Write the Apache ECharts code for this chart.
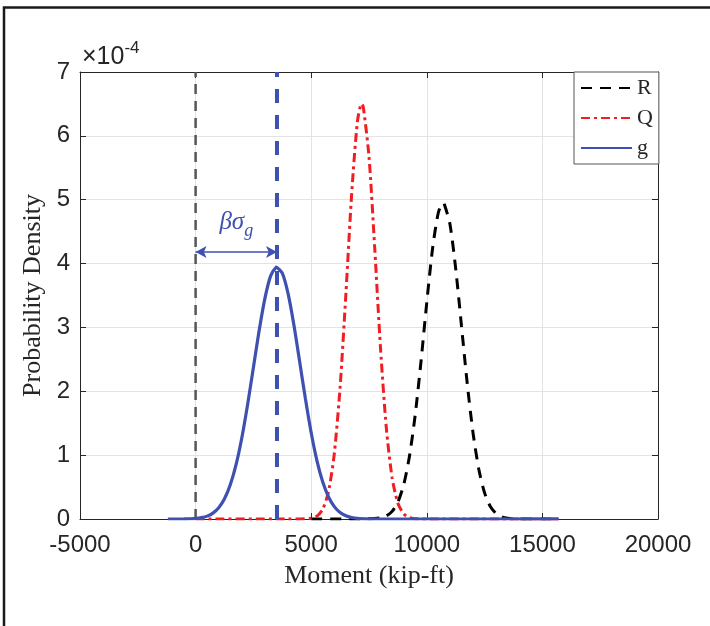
<!DOCTYPE html>
<html>
<head>
<meta charset="utf-8">
<script src="https://cdn.jsdelivr.net/npm/echarts@6/dist/echarts.min.js"></script>
<style>
html,body{margin:0;padding:0;background:#fff;}
#chart{width:710px;height:626px;}
</style>
</head>
<body>
<div id="chart"></div>
<script>
// Values (density in units of 1e-4)
const xTicks = [-5000, 0, 5000, 10000, 15000, 20000];
const yTicks = [0, 1, 2, 3, 4, 5, 6, 7];

const rX = [5000, 7000, 8000, 8250, 8500, 8750, 9000, 9250, 9500, 9750, 10000, 10250, 10500, 10700, 10750, 11000, 11250, 11500, 11750, 12000, 12250, 12500, 12750, 13000, 13250, 13500, 14000, 15700];
const rY = [0, 0, 0.018, 0.049, 0.119, 0.265, 0.535, 0.982, 1.634, 2.470, 3.395, 4.237, 4.80, 4.95, 4.94, 4.62, 3.92, 3.024, 2.118, 1.348, 0.779, 0.409, 0.195, 0.084, 0.033, 0.012, 0, 0];

const qX = [0, 4000, 5000, 5250, 5500, 5750, 6000, 6250, 6500, 6750, 7000, 7180, 7250, 7500, 7750, 8000, 8250, 8500, 8750, 9000, 9250, 9500, 10000, 15700];
const qY = [0, 0, 0.012, 0.046, 0.154, 0.432, 1.025, 2.064, 3.521, 5.088, 6.226, 6.50, 6.458, 5.675, 4.225, 2.664, 1.423, 0.645, 0.247, 0.080, 0.022, 0.005, 0, 0];

const gX = [-1200, -500, -250, 0, 250, 500, 750, 1000, 1250, 1500, 1750, 2000, 2250, 2500, 2750, 3000, 3250, 3500, 3520, 3750, 4000, 4250, 4500, 4750, 5000, 5250, 5500, 5750, 6000, 6250, 6500, 6750, 7000, 7500, 8000, 15700];
const gY = [0, 0.001, 0.004, 0.009, 0.021, 0.045, 0.092, 0.176, 0.316, 0.535, 0.851, 1.273, 1.793, 2.372, 2.954, 3.459, 3.811, 3.949, 3.95, 3.849, 3.528, 3.042, 2.467, 1.882, 1.350, 0.911, 0.578, 0.345, 0.194, 0.102, 0.051, 0.024, 0.010, 0.002, 0, 0];

const zeroLineX = [0, 0];
const zeroLineY = [0, 7];
const gMeanX = [3520, 3520];
const gMeanY = [0, 7];
const arrowY = 4.18;

const pair = (xs, ys) => xs.map((x, i) => [x, ys[i]]);

const BLUE = '#3e50b0';
const RED = '#f01e23';
const TXT = '#262626';

const chart = echarts.init(document.getElementById('chart'), null, {renderer: 'canvas'});
chart.setOption({
  animation: false,
  backgroundColor: '#fff',
  grid: {left: 80, top: 72, width: 578, height: 447, show: false},
  graphic: [
    {type: 'rect', shape: {x: 4, y: 7.5, width: 740, height: 660}, style: {fill: 'none', stroke: '#1a1a1a', lineWidth: 2.5}, z: 100},
    {type: 'text', left: 82, top: 40, style: {
      text: '{a|\u00d710}{b|-4}',
      rich: {
        a: {fontFamily: 'Liberation Sans', fontSize: 25, fill: TXT, verticalAlign: 'bottom', lineHeight: 30},
        b: {fontFamily: 'Liberation Sans', fontSize: 17, fill: TXT, verticalAlign: 'top', lineHeight: 30}
      }
    }}
  ],
  legend: {
    data: ['R', 'Q', 'g'],
    orient: 'vertical',
    left: 574, top: 72,
    padding: [5, 6, 5, 6],
    itemWidth: 51, itemHeight: 14, itemGap: 8,
    backgroundColor: '#fff',
    borderColor: '#555', borderWidth: 1,
    itemStyle: {opacity: 0},
    textStyle: {fontFamily: 'Liberation Serif', fontSize: 22, color: TXT}
  },
  xAxis: [{
    type: 'value', min: -5000, max: 20000, interval: 5000,
    name: 'Moment (kip-ft)', nameLocation: 'middle', nameGap: 44,
    nameTextStyle: {fontFamily: 'Liberation Serif', fontSize: 26, color: TXT},
    axisLine: {show: true, onZero: false, lineStyle: {color: TXT, width: 1}},
    axisTick: {show: true, inside: true, length: 6, lineStyle: {color: TXT}},
    axisLabel: {fontFamily: 'Liberation Sans', fontSize: 24, color: TXT, margin: 14,
      formatter: v => xTicks.includes(v) ? String(v) : ''},
    splitLine: {show: true, lineStyle: {color: '#e3e3e3', width: 1}}
  }, {
    type: 'value', position: 'top', min: -5000, max: 20000, interval: 5000,
    axisLine: {show: true, onZero: false, lineStyle: {color: TXT, width: 1}},
    axisTick: {show: true, inside: true, length: 6, lineStyle: {color: TXT}},
    axisLabel: {show: false}, splitLine: {show: false}
  }],
  yAxis: [{
    type: 'value', min: 0, max: 7, interval: 1,
    name: 'Probability Density', nameLocation: 'middle', nameGap: 30,
    nameTextStyle: {fontFamily: 'Liberation Serif', fontSize: 26, color: TXT},
    axisLine: {show: true, onZero: false, lineStyle: {color: TXT, width: 1}},
    axisTick: {show: true, inside: true, length: 6, lineStyle: {color: TXT}},
    axisLabel: {fontFamily: 'Liberation Sans', fontSize: 24, color: TXT, margin: 10,
      formatter: v => yTicks.includes(v) ? String(v) : ''},
    splitLine: {show: true, lineStyle: {color: '#e3e3e3', width: 1}}
  }, {
    type: 'value', position: 'right', min: 0, max: 7, interval: 1,
    axisLine: {show: true, onZero: false, lineStyle: {color: TXT, width: 1}},
    axisTick: {show: true, inside: true, length: 6, lineStyle: {color: TXT}},
    axisLabel: {show: false}, splitLine: {show: false}
  }],
  series: [
    {name: 'zero', type: 'line', data: pair(zeroLineX, zeroLineY), symbol: 'none',
      lineStyle: {color: '#555', width: 2.5, type: [10, 7]}, z: 2},
    {name: 'R', type: 'line', data: pair(rX, rY), symbol: 'none', smooth: 0.25, color: '#000',
      lineStyle: {color: '#000', width: 3, type: [11, 8]}, z: 3},
    {name: 'Q', type: 'line', data: pair(qX, qY), symbol: 'none', smooth: 0.25, color: RED,
      lineStyle: {color: RED, width: 3, type: [9, 4, 3, 4]}, z: 4},
    {name: 'g', type: 'line', data: pair(gX, gY), symbol: 'none', smooth: 0.25, color: BLUE,
      lineStyle: {color: BLUE, width: 3.2}, z: 5},
    {name: 'gmean', type: 'line', data: pair(gMeanX, gMeanY), symbol: 'none',
      lineStyle: {color: BLUE, width: 4, type: [14, 12]}, z: 6,
      markLine: {
        silent: true, symbol: ['arrow', 'arrow'], symbolSize: [9, 11],
        lineStyle: {color: BLUE, width: 1.5, type: 'solid'},
        label: {show: true, position: 'middle', distance: 12,
          formatter: '{b|\u03b2\u03c3}{s|g}',
          rich: {
            b: {fontFamily: 'Liberation Serif', fontStyle: 'italic', fontSize: 25, color: BLUE, lineHeight: 30, verticalAlign: 'top'},
            s: {fontFamily: 'Liberation Serif', fontStyle: 'italic', fontSize: 18, color: BLUE, lineHeight: 30, verticalAlign: 'bottom', padding: [10, 0, 0, 0]}
          }
        },
        data: [[{coord: [zeroLineX[0], arrowY]}, {coord: [gMeanX[0], arrowY]}]]
      }
    }
  ]
});
</script>
</body>
</html>
